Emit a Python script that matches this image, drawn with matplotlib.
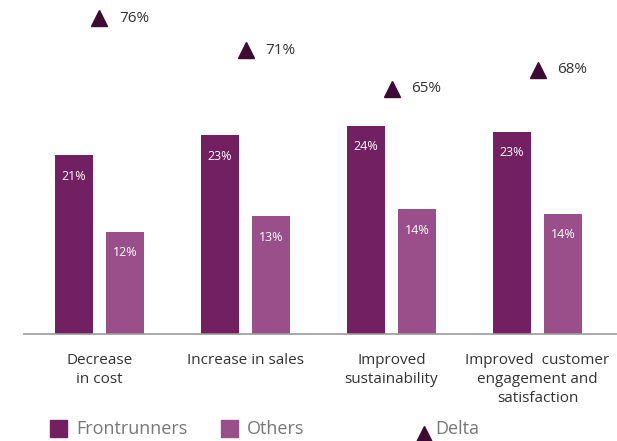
import numpy as np
import matplotlib.pyplot as plt
from matplotlib.patches import Rectangle
from matplotlib.lines import Line2D

plt.rcParams['font.family'] = ['Open Sans', 'DejaVu Sans']

categories = ['Decrease\nin cost', 'Increase in sales', 'Improved\nsustainability',
              'Improved  customer\nengagement and\nsatisfaction']
frontrunners = [20.8, 23.1, 24.2, 23.5]
others = [11.9, 13.7, 14.5, 14.0]
front_labels = ['21%', '23%', '24%', '23%']
other_labels = ['12%', '13%', '14%', '14%']
delta = [76, 71, 65, 68]

c_front = '#722062'
c_other = '#9b4f8a'
c_delta = '#3d0a33'

W, H = 617, 441
fig = plt.figure(figsize=(W / 100, H / 100), dpi=100)
ax = fig.add_axes([24 / W, (H - 334) / H, (W - 24) / W, 334 / H])

x = np.arange(len(categories))
bw = 38 / 146
off = 25.5 / 146
b1 = ax.bar(x - off, frontrunners, bw, color=c_front)
b2 = ax.bar(x + off, others, bw, color=c_other)

for bars, labs in [(b1, front_labels), (b2, other_labels)]:
    for b, t in zip(bars, labs):
        ax.annotate(t, (b.get_x() + b.get_width() / 2, b.get_height()),
                    xytext=(0, -21), textcoords='offset points' if False else 'offset pixels',
                    ha='center', va='center', color='white', fontsize=9)

ax.set_xlim((24 - 99.5) / 146, (617 - 99.5) / 146)
ax.set_ylim(0, 334 / 8.6)
for s in ['top', 'right', 'left']:
    ax.spines[s].set_visible(False)
ax.spines['bottom'].set_color('#999999')
ax.spines['bottom'].set_linewidth(1.2)
ax.set_yticks([])
ax.set_xticks(x)
ax.set_xticklabels(categories, fontsize=11, color='#333333', linespacing=1.35)
ax.tick_params(axis='x', length=0, pad=14)

ax2 = ax.twinx()
ax2.set_ylim(27.0, 78.8)
ax2.axis('off')
ax2.plot(x, delta, linestyle='none', marker='^', markersize=11, color=c_delta)
for xi, d in zip(x, delta):
    ax2.annotate(f'{d}%', (xi, d), xytext=(20, 0), textcoords='offset pixels',
                 ha='left', va='center', fontsize=11, color='#333333')

# legend drawn by hand
leg_y = 428.5
for x0, col, lab in [(50, c_front, 'Frontrunners'), (221, c_other, 'Others')]:
    fig.add_artist(Rectangle((x0 / W, (H - 437) / H), 17 / W, 17 / H,
                             transform=fig.transFigure, color=col))
    fig.text((x0 + 26) / W, (H - leg_y) / H, lab, fontsize=13, color='#777777',
             va='center', ha='left')
fig.add_artist(Line2D([424 / W], [(H - 434) / H], transform=fig.transFigure,
                      marker='^', markersize=11, color=c_delta, linestyle='none'))
fig.text(435 / W, (H - leg_y) / H, 'Delta', fontsize=13, color='#777777',
         va='center', ha='left')

fig.savefig('out.png', dpi=100)
